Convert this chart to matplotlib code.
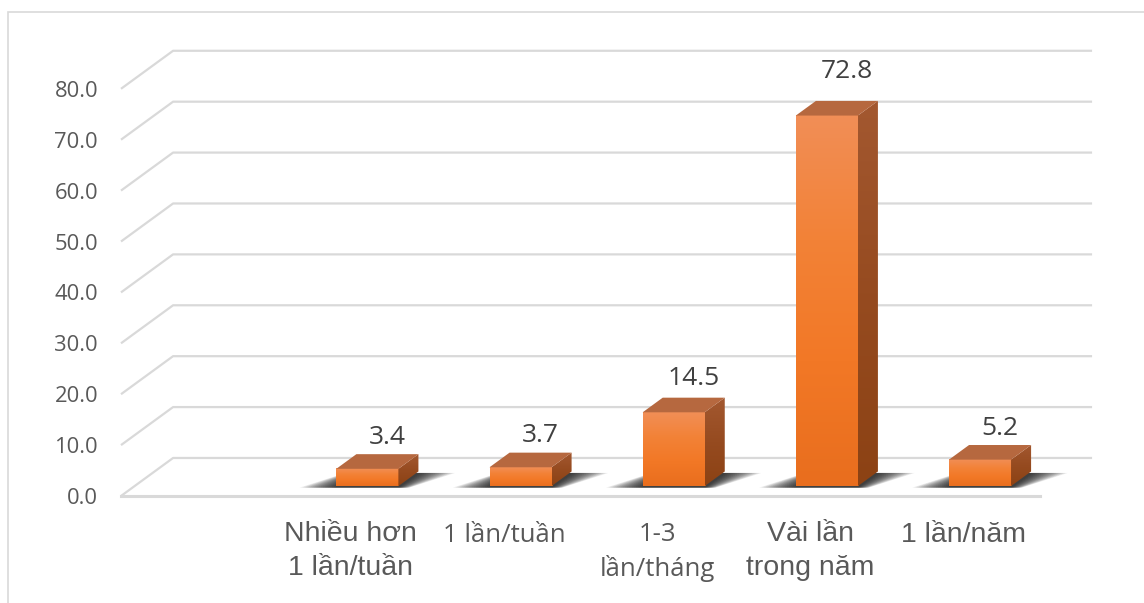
import numpy as np
import matplotlib
matplotlib.use("Agg")
import matplotlib.pyplot as plt
from matplotlib.patches import Polygon, Rectangle

# data
categories = ["", "Nhiều hơn\n1 lần/tuần", "1 lần/tuần", "1-3\nlần/tháng",
              "Vài lần\ntrong năm", "1 lần/năm"]
values = [None, 3.4, 3.7, 14.5, 72.8, 5.2]
yticks = [0, 10, 20, 30, 40, 50, 60, 70, 80]

# fake 3d geometry (depth offset in data units)
DX, DY = 0.34, 7.47
D0, D1 = 0.26, 0.645
W = 0.405
XSHIFT = 0.02

fig = plt.figure(figsize=(11.44, 6.03), dpi=100)
ax = fig.add_axes([121 / 1144, 107 / 603, 919 / 1144, 407.2 / 603])
ax.set_xlim(-0.5, 5.5)
ax.set_ylim(0, 80)
for s in ax.spines.values():
    s.set_visible(False)
ax.patch.set_visible(False)

# chart border
fig.add_artist(Rectangle((8 / 1144, -0.1), 2, 1 - 12 / 603 + 0.1, transform=fig.transFigure,
                         fill=False, edgecolor="#d9d9d9", lw=1.2))

grid_c = "#d9d9d9"
x0, x1 = ax.get_xlim()
for v in yticks:
    ax.plot([x0, x0 + DX, x1 + DX], [v, v + DY, v + DY], color=grid_c, lw=1.6,
            clip_on=False, zorder=1, solid_capstyle="butt")
ax.plot([x0, x1], [0, 0], color=grid_c, lw=2.2, clip_on=False, zorder=1)

ax.set_yticks(yticks)
ax.set_yticklabels([f"{v:.1f}" for v in yticks], family=["Open Sans", "DejaVu Sans"],
                   fontsize=15.8, color="#595959")
ax.tick_params(axis="y", length=0, pad=16.5)

# category labels, first line baseline ~46 px below the floor edge
ax.set_xticks([])
for i, lab in enumerate(categories):
    if i in (2, 3):
        fam, fs, ls, step = ["Open Sans", "DejaVu Sans"], 18.5, 1.36, 34
    else:
        fam, fs, ls, step = ["Liberation Sans", "DejaVu Sans"], 20.5, 1.38, 33
    nl = lab.count("\n")
    ax.annotate(lab, xy=(i, 0), xytext=(0, -(46 + nl * step) * 0.72), textcoords="offset points",
                ha="center", va="baseline", multialignment="center",
                fontsize=fs, family=fam, color="#595959", linespacing=ls,
                annotation_clip=False)

front_grad = np.array([[241, 142, 86], [243, 130, 55], [242, 120, 38], [233, 110, 30]]) / 255
side_grad = np.array([[163, 88, 48], [150, 75, 32], [140, 66, 20]]) / 255


def vgrad(cols, n=64):
    t = np.linspace(0, 1, n)
    k = np.linspace(0, 1, len(cols))
    arr = np.stack([np.interp(t, k, cols[:, c]) for c in range(3)], axis=1)
    return arr[:, None, :]


for i, v in enumerate(values):
    if v is None:
        continue
    xl = i - W / 2 + D0 * DX + XSHIFT
    xr = xl + W
    yb = D0 * DY
    ddx = (D1 - D0) * DX
    ddy = (D1 - D0) * DY

    # soft shadow on the floor
    n = 16
    for k in range(1, n + 1):
        e = 0.24 * k / n
        shadow = [(xl - e, yb - 0.3), (xr + 0.3 * e, yb - 0.3),
                  (xr + ddx + e, yb + ddy * 0.9), (xl + ddx - 0.3 * e, yb + ddy * 0.9)]
        ax.add_patch(Polygon(shadow, closed=True, facecolor="black", edgecolor="none",
                             alpha=0.08, zorder=2, clip_on=False))

    # front face with gradient
    ax.imshow(vgrad(front_grad), extent=[xl, xr, yb, yb + v], aspect="auto",
              origin="upper", zorder=3, interpolation="bilinear")

    # side face
    side = Polygon([(xr, yb), (xr, yb + v), (xr + ddx, yb + v + ddy), (xr + ddx, yb + ddy)],
                   closed=True, facecolor="none", edgecolor="none")
    ax.add_patch(side)
    im = ax.imshow(vgrad(side_grad), extent=[xr, xr + ddx, yb, yb + v + ddy], aspect="auto",
                   origin="upper", zorder=3, interpolation="bilinear")
    im.set_clip_path(side)

    # top face
    ax.add_patch(Polygon([(xl, yb + v), (xr, yb + v), (xr + ddx, yb + v + ddy),
                          (xl + ddx, yb + v + ddy)], closed=True,
                         facecolor="#b6683f", edgecolor="none", zorder=4, clip_on=False))

    # value label above the back edge of the top face
    off = (16 + 0.19 * v) * 0.72
    ax.annotate(f"{v:.1f}", xy=(i + D1 * DX + XSHIFT, yb + v + ddy), xytext=(0, off),
                textcoords="offset points", ha="center", va="center",
                fontsize=19, color="#404040", family=["Open Sans", "DejaVu Sans"])

ax.set_xlim(-0.5, 5.5)
ax.set_ylim(0, 80)
fig.savefig("out.png", dpi=100, facecolor="white")
